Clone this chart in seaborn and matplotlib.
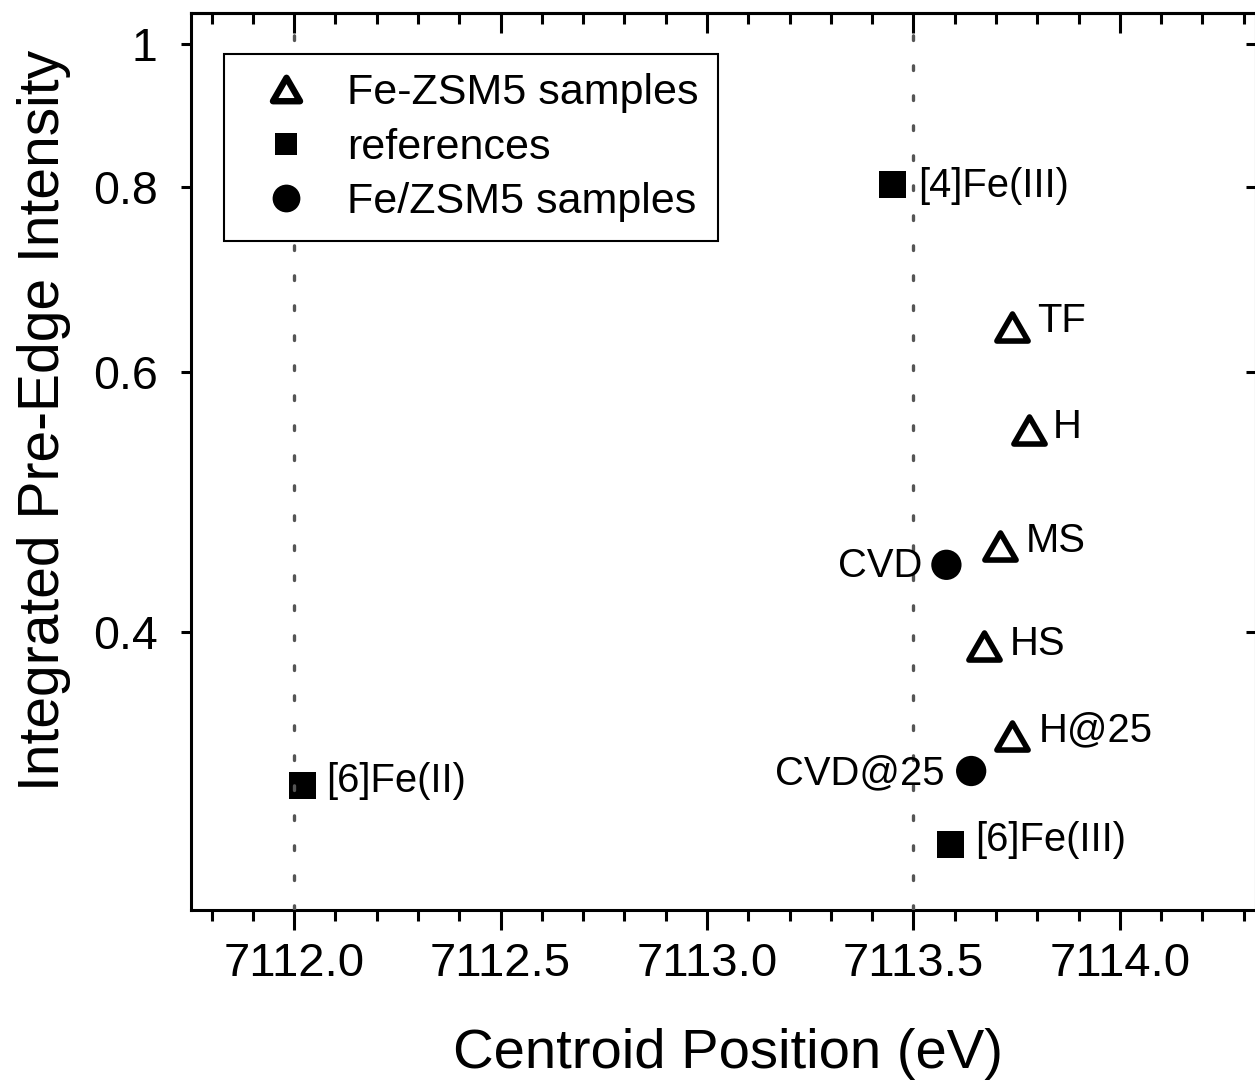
import numpy as np
import pandas as pd
import matplotlib
matplotlib.use("Agg")
import matplotlib.pyplot as plt
from matplotlib.path import Path
from matplotlib.lines import Line2D
from matplotlib.ticker import MultipleLocator, FixedLocator, NullLocator, FuncFormatter
import seaborn as sns

# ---- data -----------------------------------------------------------------
zsm5_labels = ["TF", "H", "MS", "HS", "H@25"]
zsm5_centroid = [7113.74, 7113.78, 7113.71, 7113.67, 7113.74]
zsm5_intensity = [0.643, 0.548, 0.457, 0.391, 0.340]

ref_labels = ["[4]Fe(III)", "[6]Fe(II)", "[6]Fe(III)"]
ref_centroid = [7113.45, 7112.02, 7113.59]
ref_intensity = [0.803, 0.315, 0.287]

cvd_labels = ["CVD", "CVD@25"]
cvd_centroid = [7113.58, 7113.64]
cvd_intensity = [0.444, 0.322]

guide_positions = [7112.0, 7113.5]
y_ticks = [0.4, 0.6, 0.8, 1.0]

legend_names = ["Fe-ZSM5 samples", "references", "Fe/ZSM5 samples"]

# label placement (dx, dy in pixels, dy downward)
zsm5_offsets = [(25, 5), (24, 8), (25.5, 6), (26, 9), (26, 5)]
ref_offsets = [(25, 12), (24, 7), (25, 6)]
cvd_offsets = [(-24, 12), (-27, 13)]

# ---- style ----------------------------------------------------------------
sns.set_theme(style="ticks")
plt.rcParams["font.family"] = ["Liberation Sans", "DejaVu Sans"]
plt.rcParams.update({
    "axes.linewidth": 2.2,
    "axes.edgecolor": "black",
    "text.color": "black",
    "axes.labelcolor": "black",
    "xtick.color": "black",
    "ytick.color": "black",
    "xtick.labelcolor": "black",
    "ytick.labelcolor": "black",
})

fig = plt.figure(figsize=(12.55, 10.8), dpi=100)
W, H = 1255.0, 1080.0
ax = fig.add_axes([191 / W, 1 - 910 / H, (1256 - 191) / W, (910 - 13) / H])
ax.set_yscale("log")

# equilateral triangle marker centred on its bounding box
tri_h = np.sqrt(3) / 2
triangle = Path([(-1, -tri_h), (1, -tri_h), (0, tri_h), (-1, -tri_h)],
                [Path.MOVETO, Path.LINETO, Path.LINETO, Path.CLOSEPOLY])

zsm5 = pd.DataFrame({"centroid": zsm5_centroid, "intensity": zsm5_intensity})
refs = pd.DataFrame({"centroid": ref_centroid, "intensity": ref_intensity})
cvd = pd.DataFrame({"centroid": cvd_centroid, "intensity": cvd_intensity})

sns.scatterplot(data=zsm5, x="centroid", y="intensity", ax=ax, marker=triangle,
                s=22.5 ** 2, color="white", edgecolor="black", linewidth=4.0,
                joinstyle="round", legend=False, zorder=2)
sns.scatterplot(data=refs, x="centroid", y="intensity", ax=ax, marker="s",
                s=19.6 ** 2, color="black", edgecolor="none", linewidth=0,
                legend=False, zorder=2)
sns.scatterplot(data=cvd, x="centroid", y="intensity", ax=ax, marker="o",
                s=21.8 ** 2, color="black", edgecolor="none", linewidth=0,
                legend=False, zorder=2)
ax.set_xlabel("")
ax.set_ylabel("")

# dotted guide lines
for xv in guide_positions:
    ax.axvline(xv, color="#555555", linewidth=2.4, linestyle=(0, (1.4, 7.6)),
               dash_capstyle="round", zorder=3)

# point labels
px2pt = 72.0 / 100.0
def put_labels(labels, xs, ys, offsets):
    for lab, xv, yv, (dx, dy) in zip(labels, xs, ys, offsets):
        ax.annotate(lab, (xv, yv), xytext=(dx * px2pt, -dy * px2pt),
                    textcoords="offset points", fontsize=28.8,
                    ha="left" if dx > 0 else "right", va="baseline",
                    color="black", zorder=3)

put_labels(zsm5_labels, zsm5_centroid, zsm5_intensity, zsm5_offsets)
put_labels(ref_labels, ref_centroid, ref_intensity, ref_offsets)
put_labels(cvd_labels, cvd_centroid, cvd_intensity, cvd_offsets)

# axes limits and ticks
ax.set_xlim(7111.75, 7114.33)
ax.set_ylim(0.2593, 1.049)

ax.xaxis.set_major_locator(MultipleLocator(0.5))
ax.xaxis.set_minor_locator(MultipleLocator(0.1))
ax.xaxis.set_major_formatter(FuncFormatter(lambda v, p: f"{v:.1f}"))
ax.yaxis.set_major_locator(FixedLocator(y_ticks))
ax.yaxis.set_minor_locator(NullLocator())
ax.yaxis.set_major_formatter(FuncFormatter(lambda v, p: f"{v:g}"))

ax.tick_params(axis="x", which="major", direction="out", length=14.4,
               width=2.2, labelsize=34, pad=9, color="black",
               labelcolor="black")
ax.tick_params(axis="x", which="minor", direction="out", length=8,
               width=2.2, color="black")
ax.tick_params(axis="y", which="major", direction="out", length=7.5,
               width=2.2, labelsize=33.5, pad=16.5, color="black",
               labelcolor="black")

# inward ticks on the opposite sides
top = ax.secondary_xaxis("top")
top.xaxis.set_major_locator(MultipleLocator(0.5))
top.xaxis.set_minor_locator(MultipleLocator(0.1))
top.tick_params(axis="x", which="major", direction="in", length=14.4,
                width=2.2, labeltop=False, color="black")
top.tick_params(axis="x", which="minor", direction="in", length=8, width=2.2,
                color="black")
top.spines["top"].set_linewidth(2.2)

right = ax.secondary_yaxis("right")
right.yaxis.set_major_locator(FixedLocator(y_ticks))
right.yaxis.set_minor_locator(NullLocator())
right.tick_params(axis="y", which="major", direction="in", length=7.5,
                  width=2.2, labelright=False, color="black")

for sp in ax.spines.values():
    sp.set_linewidth(2.2)
    sp.set_color("black")
    sp.set_visible(True)

# axis titles
fig.text(728 / W, 1 - 1068 / H, "Centroid Position (eV)", fontsize=40.5,
         ha="center", va="baseline", color="black")
fig.text(44 / W, 1 - 420 / H, "Integrated Pre-Edge Intensity", fontsize=41,
         ha="center", va="center", rotation=90, color="black")

# legend
handles = [
    Line2D([], [], linestyle="none", marker=triangle, markersize=19.5,
           markerfacecolor="white", markeredgecolor="black",
           markeredgewidth=4.6),
    Line2D([], [], linestyle="none", marker="s", markersize=16,
           markerfacecolor="black", markeredgecolor="black",
           markeredgewidth=0),
    Line2D([], [], linestyle="none", marker="o", markersize=20,
           markerfacecolor="black", markeredgecolor="black",
           markeredgewidth=0),
]
leg = ax.legend(handles, legend_names, loc="upper left",
                bbox_to_anchor=((224 - 191) / 1065, (910 - 54) / 897),
                borderaxespad=0, fontsize=31, frameon=True, fancybox=False,
                framealpha=1, edgecolor="black", borderpad=0.45,
                labelspacing=0.33, handlelength=2.0, handletextpad=0.4)
leg.get_frame().set_linewidth(1.5)
for t in leg.get_texts():
    t.set_color("black")

fig.savefig("out.png", dpi=100, facecolor="white")
